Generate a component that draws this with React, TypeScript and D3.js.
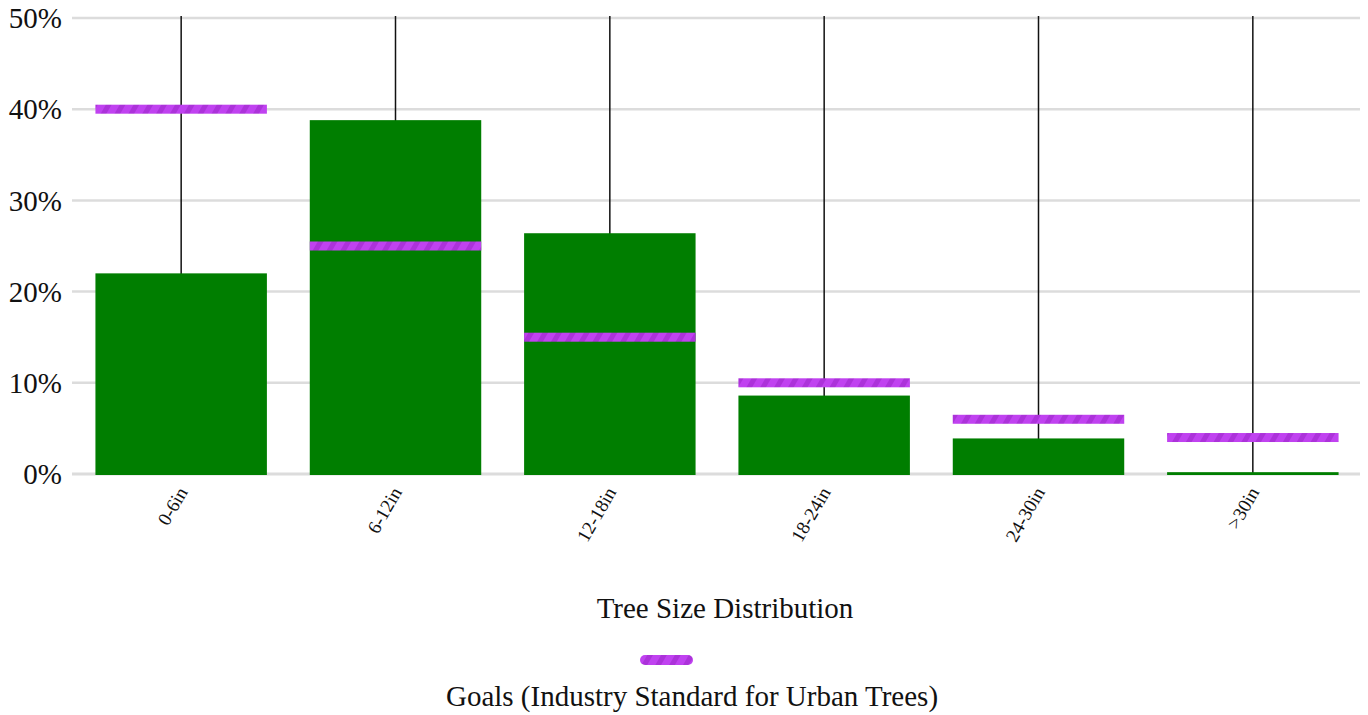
import React from "react";
import * as d3 from "d3";

const categories = ["0-6in", "6-12in", "12-18in", "18-24in", "24-30in", ">30in"];
const actualValues = [22.0, 38.8, 26.4, 8.6, 3.9, 0.2];
const goalValues = [40, 25, 15, 10, 6, 4];
const yTicks = [0, 10, 20, 30, 40, 50];

const W = 1368;
const H = 715;
const FONT = "'Liberation Serif', 'Times New Roman', serif";

export default function App() {
  const x = d3.scaleBand<string>().domain(categories).range([74, 1360]).paddingInner(0.2).paddingOuter(0.1);
  const y = d3.scaleLinear().domain([0, 50]).range([474, 18]);
  const bw = x.bandwidth();
  return (
    <svg width={W} height={H} style={{ position: "absolute", left: 0, top: 0 }}>
      <defs>
        <pattern id="goalTex" patternUnits="userSpaceOnUse" width="12" height="12" patternTransform="rotate(30)">
          <rect width="12" height="12" fill="#c042f0" />
          <rect width="5" height="12" fill="#9a24c8" opacity="0.55" />
        </pattern>
      </defs>
      {yTicks.map((t) => (
        <g key={t}>
          <line x1={72} x2={1360} y1={y(t)} y2={y(t)} stroke="#dcdcdc" strokeWidth={t === 0 ? 3 : 2.5} />
          <text x={62} y={y(t)} dy="0.35em" textAnchor="end" fontFamily={FONT} fontSize={29} fill="#111">
            {t}%
          </text>
        </g>
      ))}
      {categories.map((c) => {
        const cx = (x(c) as number) + bw / 2;
        return <line key={"l" + c} x1={cx} x2={cx} y1={16} y2={y(0)} stroke="#111" strokeWidth={1.5} />;
      })}
      {categories.map((c, i) => (
        <rect key={"b" + c} x={x(c)} y={y(actualValues[i])} width={bw} height={y(0) - y(actualValues[i]) + 1} fill="#007e00" />
      ))}
      {categories.map((c, i) => (
        <rect key={"g" + c} x={x(c)} y={y(goalValues[i]) - 4.5} width={bw} height={9} fill="url(#goalTex)" />
      ))}
      {categories.map((c) => {
        const cx = (x(c) as number) + bw / 2;
        return (
          <text
            key={"t" + c}
            transform={`translate(${cx + 7},${492}) rotate(-60)`}
            textAnchor="end"
            fontFamily={FONT}
            fontSize={19}
            fill="#111"
          >
            {c}
          </text>
        );
      })}
      <text x={725} y={618} textAnchor="middle" fontFamily={FONT} fontSize={29} fill="#111">
        Tree Size Distribution
      </text>
      <line x1={645} x2={688} y1={660} y2={660} stroke="url(#goalTex)" strokeWidth={10} strokeLinecap="round" />
      <text x={692} y={706} textAnchor="middle" fontFamily={FONT} fontSize={29} fill="#111">
        Goals (Industry Standard for Urban Trees)
      </text>
    </svg>
  );
}
